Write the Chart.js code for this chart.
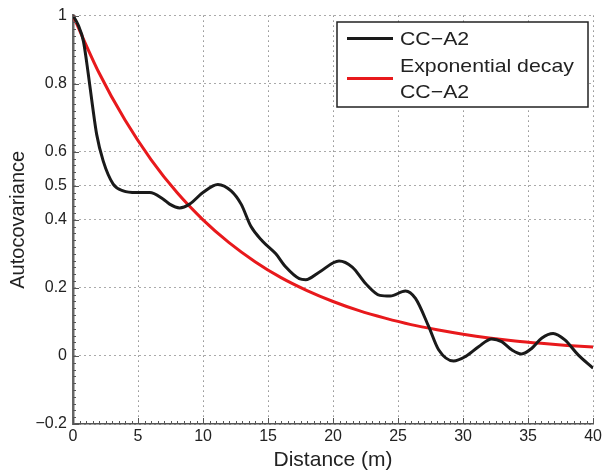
<!DOCTYPE html>
<html>
<head>
<meta charset="utf-8">
<script src="https://cdn.jsdelivr.net/npm/chart.js@4.4.1/dist/chart.umd.min.js"></script>
<style>
html,body{margin:0;padding:0;background:#fff;}
#wrap{width:605px;height:473px;}
</style>
</head>
<body>
<div id="wrap"><canvas id="c" width="605" height="473"></canvas></div>
<script>
const seriesNames = ["CC\u2212A2", "Exponential decay\nCC\u2212A2"];
const ccDistance = [0, 0.4, 0.8, 1.17, 1.5, 1.82, 2.32, 3.09, 3.86, 4.88, 5.9, 6.92, 7.43, 8.2, 8.97, 9.99, 11.14, 12.16, 12.93, 13.69, 14.58, 15.6, 16.37, 17.4, 17.9, 18.93, 20.46, 21.48, 22.5, 23.6, 24.4, 25.57, 26.34, 27.36, 28.12, 29.27, 30.17, 31.19, 32.2, 32.97, 33.74, 34.5, 35.27, 36.04, 36.93, 37.83, 38.85, 40];
const ccValues   = [1, 0.972, 0.925, 0.83, 0.735, 0.651, 0.573, 0.505, 0.485, 0.48, 0.48, 0.461, 0.446, 0.435, 0.446, 0.48, 0.504, 0.485, 0.446, 0.38, 0.337, 0.3, 0.261, 0.227, 0.224, 0.246, 0.279, 0.261, 0.213, 0.178, 0.176, 0.191, 0.169, 0.086, 0.018, -0.015, -0.002, 0.027, 0.05, 0.042, 0.018, 0.006, 0.022, 0.052, 0.066, 0.047, 0.003, -0.036];
const expDistance = [0, 2, 4, 6, 8, 10, 12, 14, 16, 18, 20, 22, 24, 26, 28, 30, 32, 34, 36, 38, 40];
const expValues   = [1, 0.832, 0.693, 0.577, 0.48, 0.4, 0.333, 0.277, 0.23, 0.192, 0.16, 0.133, 0.111, 0.092, 0.077, 0.064, 0.053, 0.044, 0.037, 0.031, 0.026];
const xTicks = [0, 5, 10, 15, 20, 25, 30, 35, 40];
const yTicks = [-0.2, 0, 0.2, 0.4, 0.5, 0.6, 0.8, 1];

const FONT = "'Liberation Sans', Arial, Helvetica, sans-serif";
const fmt = v => String(v).replace('-', '\u2212');

const ticksPlugin = {
  id: 'matlabTicks',
  afterDraw(chart) {
    const ctx = chart.ctx, a = chart.chartArea;
    const xs = chart.scales.x, ys = chart.scales.y;
    ctx.save();
    ctx.strokeStyle = '#555';
    ctx.lineWidth = 1;
    ctx.beginPath();
    for (let v = 0; v <= 40.001; v += 0.5) {
      const px = Math.round(xs.getPixelForValue(v)) + 0.5;
      const len = (Math.abs(v % 5) < 1e-6) ? 6 : 3;
      ctx.moveTo(px, a.bottom); ctx.lineTo(px, a.bottom - len);
    }
    for (let i = 0; i <= 60; i++) {
      const v = -0.2 + i * 0.02;
      const py = Math.round(ys.getPixelForValue(v)) + 0.5;
      const major = yTicks.some(t => Math.abs(t - v) < 1e-6);
      const len = major ? 6 : 3;
      ctx.moveTo(a.left, py); ctx.lineTo(a.left + len, py);
    }
    ctx.stroke();
    // legend
    const bx = 337, by = 22, bw = 251, bh = 85;
    ctx.fillStyle = '#fff';
    ctx.fillRect(bx, by, bw, bh);
    ctx.strokeStyle = '#222';
    ctx.lineWidth = 1.5;
    ctx.strokeRect(bx, by, bw, bh);
    const ds = chart.data.datasets;
    ctx.lineWidth = 3;
    ctx.strokeStyle = ds[0].borderColor;
    ctx.beginPath(); ctx.moveTo(347, 38.5); ctx.lineTo(393, 38.5); ctx.stroke();
    ctx.strokeStyle = ds[1].borderColor;
    ctx.beginPath(); ctx.moveTo(347, 78.5); ctx.lineTo(393, 78.5); ctx.stroke();
    ctx.fillStyle = '#222';
    ctx.font = '19px ' + FONT;
    ctx.textBaseline = 'middle';
    ctx.textAlign = 'left';
    ctx.translate(400, 0);
    ctx.scale(1.12, 1);
    ctx.fillText(ds[0].label, 0, 40);
    const lines = ds[1].label.split('\n');
    ctx.fillText(lines[0], 0, 67);
    ctx.fillText(lines[1], 0, 93);
    ctx.restore();
  }
};

new Chart(document.getElementById('c'), {
  type: 'scatter',
  data: {
    datasets: [
      {
        label: seriesNames[0],
        data: ccDistance.map((d, i) => ({x: d, y: ccValues[i]})),
        showLine: true, borderColor: '#1a1a1a', borderWidth: 3,
        pointRadius: 0, cubicInterpolationMode: 'monotone', fill: false
      },
      {
        label: seriesNames[1],
        data: expDistance.map((d, i) => ({x: d, y: expValues[i]})),
        showLine: true, borderColor: '#e8191c', borderWidth: 3,
        pointRadius: 0, cubicInterpolationMode: 'monotone', fill: false
      }
    ]
  },
  options: {
    responsive: false,
    animation: false,
    layout: {padding: {top: 14, right: 10, left: 0, bottom: 0}},
    plugins: {legend: {display: false}, tooltip: {enabled: false}},
    scales: {
      x: {
        type: 'linear', min: 0, max: 40,
        afterBuildTicks: s => { s.ticks = xTicks.map(v => ({value: v})); },
        afterFit: s => { s.height = 49; },
        ticks: {color: '#222', font: {family: FONT, size: 16}, padding: 3, maxRotation: 0, callback: v => fmt(v)},
        grid: {color: '#555', lineWidth: 1, drawTicks: false},
        border: {display: true, color: '#555', width: 1.5, dash: [1, 4]},
        title: {display: true, text: 'Distance (m)', color: '#222', font: {family: FONT, size: 21}, padding: {top: 3, bottom: 0}}
      },
      y: {
        type: 'linear', min: -0.2, max: 1,
        afterBuildTicks: s => { s.ticks = yTicks.map(v => ({value: v})); },
        afterFit: s => { s.width = 73; },
        ticks: {color: '#222', font: {family: FONT, size: 16}, padding: 6, callback: v => fmt(v)},
        grid: {color: '#555', lineWidth: 1, drawTicks: false},
        border: {display: true, color: '#666', width: 2.5, dash: [1, 4]},
        title: {display: true, text: 'Autocovariance', color: '#222', font: {family: FONT, size: 20}, padding: {top: 6, bottom: 0}}
      }
    }
  },
  plugins: [ticksPlugin]
});
</script>
</body>
</html>
